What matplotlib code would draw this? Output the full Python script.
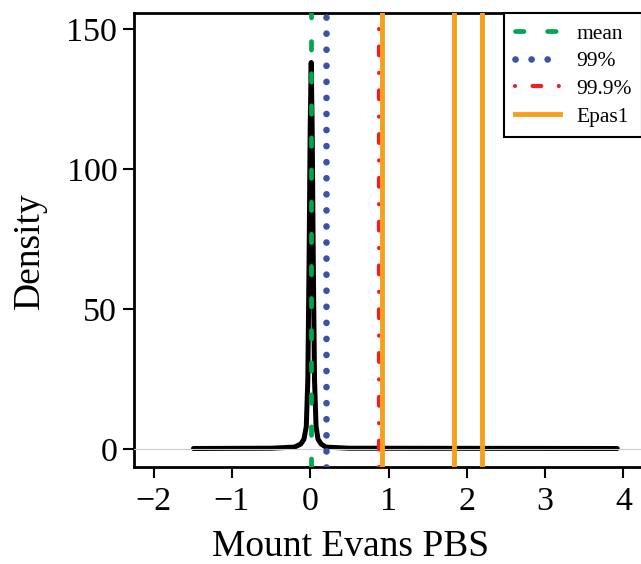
import numpy as np
import matplotlib.pyplot as plt

plt.rcParams['font.family'] = ['Liberation Serif', 'DejaVu Serif']

# density curve
kde_x = [-1.49, -0.5, -0.2, -0.12, -0.08, -0.05, -0.03, -0.015, 0.0, 0.013, 0.025, 0.04, 0.055, 0.075, 0.1, 0.14, 0.2, 0.5, 3.92]
kde_y = [0.2, 0.3, 0.7, 1.8, 3.5, 8, 25, 65, 115, 138, 115, 65, 25, 8, 3.5, 1.8, 0.7, 0.3, 0.2]

mean_x = 0.013
q99_x = 0.20
q999_x = 0.88
epas1_x = [0.92, 1.83, 2.19]

xticks = [-2, -1, 0, 1, 2, 3, 4]
yticks = [0, 50, 100, 150]

fig = plt.figure(figsize=(6.41, 5.64), dpi=100)
ax = fig.add_axes([0.209, 0.172, 0.793, 0.805])

ax.plot(kde_x, kde_y, color='black', lw=3.6, solid_capstyle='round', solid_joinstyle='round', zorder=2)
ax.axhline(0, color='#cccccc', lw=0.8, zorder=3)

ax.axvline(mean_x, color='#00A650', lw=3.4, linestyle=(0, (1.8, 5)), dash_capstyle='round', label='mean', zorder=4)
ax.axvline(q99_x, color='#3A53A4', lw=4.8, linestyle=(0, (0.01, 2.4)), dash_capstyle='round', label='99%', zorder=4)
ax.axvline(q999_x, color='#EE1F25', lw=3.0, linestyle=(0, (0.01, 4.2, 2.1, 4.2)), dash_capstyle='round', label='99.9%', zorder=4)
for i, e in enumerate(epas1_x):
    ax.axvline(e, color='#F8A01C', lw=3.5, label='Epas1' if i == 0 else None, zorder=4)

ax.set_xlim(-2.25, 4.24)
ax.set_ylim(-6.4, 155.7)
ax.set_xticks(xticks)
ax.set_yticks(yticks)
ax.set_xticklabels(['\u22122', '\u22121', '0', '1', '2', '3', '4'])
ax.tick_params(labelsize=24.5, length=8, width=1.5, direction='out', pad=4)
ax.tick_params(axis='x', pad=6)
for s in ax.spines.values():
    s.set_linewidth(2)

ax.set_xlabel('Mount Evans PBS', fontsize=27)
ax.set_ylabel('Density', fontsize=27)
ax.xaxis.set_label_coords(0.426, -0.137)
ax.yaxis.set_label_coords(-0.172, 0.476)

leg = ax.legend(loc='upper right', fontsize=15.5, fancybox=False, framealpha=1,
                edgecolor='black', borderaxespad=0, handlelength=2.1,
                handletextpad=0.75, labelspacing=0.35, borderpad=0.5)
leg.get_frame().set_linewidth(1.5)

plt.savefig('out.png', dpi=100)
